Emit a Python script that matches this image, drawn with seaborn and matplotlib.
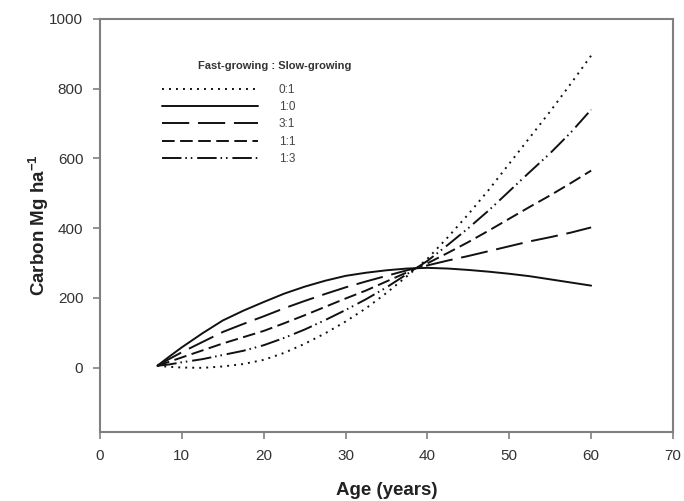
import matplotlib
matplotlib.use("Agg")
import matplotlib.pyplot as plt
from matplotlib.lines import Line2D
import seaborn as sns
import pandas as pd

ages = [7, 8.5, 10, 12.5, 15, 17.5, 20, 22.5, 25, 27.5, 30, 32.5, 35, 37.5,
        40, 42.5, 45, 47.5, 50, 52.5, 55, 57.5, 60]
c_0_1 = [5, 2, 0, -1, 3, 10, 22, 42, 68, 98, 132, 170, 214, 262,
         312, 374, 440, 510, 585, 660, 735, 814, 895]
c_1_0 = [5, 32, 58, 98, 135, 163, 188, 212, 232, 249, 263, 272, 279, 284,
         286, 284, 280, 275, 269, 262, 253, 244, 235]
c_3_1 = [5, 25, 44, 73, 102, 125, 147, 170, 191, 211, 230, 247, 263, 279,
         293, 307, 320, 334, 348, 362, 374, 387, 402]
c_1_1 = [5, 17, 29, 49, 69, 87, 105, 127, 150, 174, 198, 221, 247, 273,
         299, 329, 360, 393, 427, 461, 494, 529, 565]
c_1_3 = [5, 9, 15, 24, 36, 48, 64, 85, 109, 136, 165, 196, 230, 268,
         306, 352, 400, 451, 506, 561, 615, 674, 740]
ratios = ["0:1", "1:0", "3:1", "1:1", "1:3"]
series = [c_0_1, c_1_0, c_3_1, c_1_1, c_1_3]

rows = []
for r, vals in zip(ratios, series):
    for a, v in zip(ages, vals):
        rows.append({"Age": a, "Carbon": v, "Ratio": r})
df = pd.DataFrame(rows)

sns.set_theme(style="ticks")
plt.rcParams["font.family"] = ["Liberation Sans", "DejaVu Sans"]
plt.rcParams["mathtext.fontset"] = "custom"
plt.rcParams["mathtext.bf"] = "Liberation Sans:bold"
plt.rcParams["mathtext.rm"] = "Liberation Sans"

dash_map = {
    "0:1": (1, 2.6),
    "1:0": "",
    "3:1": (14, 4.5),
    "1:1": (6.5, 2.8),
    "1:3": (10, 2, 0.8, 2, 0.8, 2.5),
}
lw = 1.4
line_col = "#111111"

fig = plt.figure(figsize=(6.84, 5.01), dpi=100)
ax = fig.add_axes([100/684, 1-432/501, 573/684, 413/501])

sns.lineplot(data=df, x="Age", y="Carbon", style="Ratio", style_order=ratios,
             dashes=dash_map, color=line_col, linewidth=lw, legend=False,
             estimator=None, sort=False, ax=ax)

ax.set_xlim(0, 70)
ax.set_ylim(-185, 1000)
ax.set_xticks(range(0, 71, 10))
ax.set_yticks(range(0, 1001, 200))

spine_col = "#808080"
for s in ax.spines.values():
    s.set_visible(True)
    s.set_color(spine_col)
    s.set_linewidth(1.5)
ax.tick_params(axis="both", colors=spine_col, direction="out", length=5,
               width=1.2, labelsize=11, labelcolor="#333333", pad=7)

ax.set_xlabel("Age (years)", fontsize=13.5, fontweight="bold", color="#222222",
              labelpad=14)
ax.set_ylabel(r"Carbon Mg ha$^{\mathbf{-1}}$", fontsize=13.5, fontweight="bold",
              color="#222222", labelpad=-1)

handles = []
for r in ratios:
    d = dash_map[r]
    if d == "":
        h = Line2D([], [], color=line_col, linewidth=lw, linestyle="-")
    else:
        h = Line2D([], [], color=line_col, linewidth=lw, linestyle=(0, d))
    handles.append(h)
leg = ax.legend(handles, ratios, loc="upper left", bbox_to_anchor=(0.108, 0.843),
                frameon=False, fontsize=8.5, handlelength=8.1, handletextpad=1.8,
                labelspacing=0.45, borderpad=0, borderaxespad=0)
for t in leg.get_texts():
    t.set_color("#444444")
ax.text(0.171, 0.886, "Fast-growing : Slow-growing", transform=ax.transAxes,
        fontsize=8, fontweight="bold", color="#333333", va="center", ha="left")

fig.savefig("out.png", dpi=100)
